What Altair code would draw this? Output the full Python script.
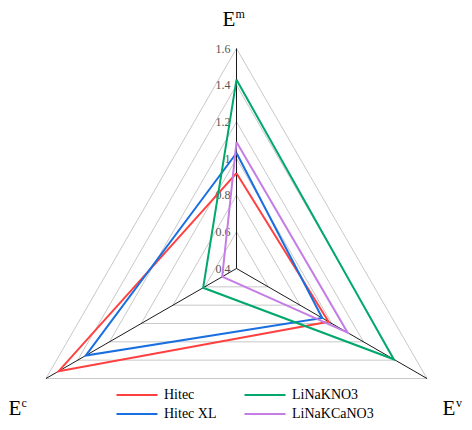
import altair as alt
import pandas as pd

# radar axes, clockwise from the top: E^m, E^v, E^c
axis_sup = ["m", "v", "c"]

series = ["Hitec", "Hitec XL", "LiNaKNO3", "LiNaKCaNO3"]
colors = ["#ff4040", "#1a6fe0", "#00a86b", "#c57de6"]

# values per axis (E^m, E^v, E^c)
hitec = [0.92, 0.98, 1.52]
hitec_xl = [1.03, 0.94, 1.35]
linakno3 = [1.43, 1.39, 0.61]
linakcano3 = [1.09, 1.10, 0.49]

levels = [0.4, 0.6, 0.8, 1.0, 1.2, 1.4, 1.6]
level_labels = ["0.4", "0.6", "0.8", "1", "1.2", "1.4", "1.6"]
r_min, r_max = 0.4, 1.6

FONT = "Liberation Serif"

rows = []
for name, vals in zip(series, [hitec, hitec_xl, linakno3, linakcano3]):
    for i in range(4):
        rows.append({"series": name, "idx": i, "value": vals[i % 3]})
series_df = pd.DataFrame(rows)

grid_df = pd.DataFrame(
    [{"level": lv, "idx": i, "value": lv} for lv in levels[1:] for i in range(4)]
)
spoke_df = pd.DataFrame({"idx": [0, 1, 2], "value": [r_max] * 3})
tick_df = pd.DataFrame({"idx": [0] * len(levels), "value": levels, "label": level_labels})


def to_xy(chart):
    return chart.transform_calculate(
        r=f"(datum.value - {r_min}) / ({r_max} - {r_min})",
        a="datum.idx * 2 * PI / 3",
    ).transform_calculate(
        x="datum.r * sin(datum.a)",
        y="datum.r * cos(datum.a)",
        x0="0",
        y0="0",
    )


W, H = 456, 414
xs = alt.Scale(domain=[-228.5 / 220, (W - 228.5) / 220], nice=False, zero=False)
ys = alt.Scale(domain=[-(H - 260.5) / 220, 260.5 / 220], nice=False, zero=False)
X = alt.X("x:Q", scale=xs, axis=None)
Y = alt.Y("y:Q", scale=ys, axis=None)

grid = to_xy(alt.Chart(grid_df)).mark_line(
    color="#b0b0b0", strokeWidth=0.7
).encode(x=X, y=Y, detail="level:N", order="idx:Q")

spokes = to_xy(alt.Chart(spoke_df)).mark_rule(
    color="black", strokeWidth=0.9
).encode(
    x=alt.X("x0:Q", scale=xs, axis=None),
    y=alt.Y("y0:Q", scale=ys, axis=None),
    x2="x:Q",
    y2="y:Q",
)

ticks = to_xy(alt.Chart(tick_df)).mark_text(
    align="right", baseline="middle", dx=-6, font=FONT, fontSize=12, color="#555555"
).encode(x=X, y=Y, text="label:N")

lines = to_xy(alt.Chart(series_df)).mark_line(strokeWidth=2).encode(
    x=X,
    y=Y,
    order="idx:Q",
    color=alt.Color(
        "series:N",
        scale=alt.Scale(domain=series, range=colors),
        legend=alt.Legend(
            title=None,
            orient="none",
            direction="vertical",
            legendX=122,
            legendY=380,
            columns=2,
            symbolType="M-4,0H4",
            symbolSize=105,
            symbolStrokeWidth=2,
            labelFont=FONT,
            labelFontSize=14,
            labelOffset=20,
            columnPadding=23,
            rowPadding=5,
            padding=0,
        ),
    ),
)

# axis titles E^m, E^v, E^c: offsets from each outer vertex
title_offsets = [(-7.5, -23, -1, -31), (22, 36, 29, 28), (-31, 36, -24.5, 28)]
titles = []
for k, (sup, (edx, edy, sdx, sdy)) in enumerate(zip(axis_sup, title_offsets)):
    tdf = pd.DataFrame({"idx": [k], "value": [r_max], "sup": [sup], "main": ["E"]})
    base = to_xy(alt.Chart(tdf))
    titles.append(
        base.mark_text(
            align="center", baseline="alphabetic", dx=edx, dy=edy, font=FONT, fontSize=21
        ).encode(x=X, y=Y, text="main:N")
    )
    titles.append(
        base.mark_text(
            align="left", baseline="alphabetic", dx=sdx, dy=sdy, font=FONT, fontSize=12
        ).encode(x=X, y=Y, text="sup:N")
    )

chart = (
    alt.layer(grid, spokes, ticks, lines, *titles)
    .properties(width=W, height=H, padding=0, autosize=alt.AutoSizeParams(type="none"))
    .configure_view(stroke=None)
)

chart.save("out.html", embed_options={"renderer": "svg", "actions": False})
